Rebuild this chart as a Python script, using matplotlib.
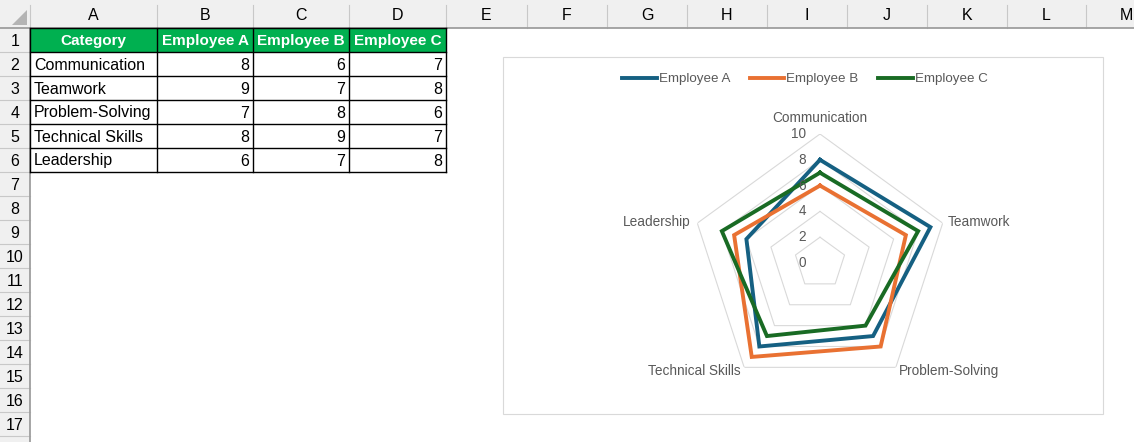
import numpy as np
import matplotlib
matplotlib.use("Agg")
import matplotlib.pyplot as plt
from matplotlib.patches import Rectangle, Polygon

# ---------------- data ----------------
categories = ["Communication", "Teamwork", "Problem-Solving", "Technical Skills", "Leadership"]
series_names = ["Employee A", "Employee B", "Employee C"]
employee_a = [8, 9, 7, 8, 6]
employee_b = [6, 7, 8, 9, 7]
employee_c = [7, 8, 6, 7, 8]
radial_ticks = [0, 2, 4, 6, 8, 10]
col_letters = ["A", "B", "C", "D", "E", "F", "G", "H", "I", "J", "K", "L", "M"]

# ---------------- layout / style ----------------
W, H = 1134, 442
DPI = 100
FONT = "Liberation Sans"
series_colors = ["#156082", "#E97132", "#196B24"]
col_edges = [30, 157, 253, 349, 446, 527, 607, 687, 767, 847, 927, 1007, 1086, 1166]
HDR_H = 28
ROW_H = 24
n_rows = 18

fig = plt.figure(figsize=(W / DPI, H / DPI), dpi=DPI)
bg = fig.add_axes([0, 0, 1, 1])
bg.set_xlim(0, W)
bg.set_ylim(H, 0)
bg.axis("off")

hdr_bg = "#F0F0F0"
sep = "#C8C8C8"
dark = "#9E9E9E"

# column header band
bg.add_patch(Rectangle((0, 0), W, HDR_H, facecolor=hdr_bg, edgecolor="none", zorder=1))
# row header band
bg.add_patch(Rectangle((0, 0), 30, H, facecolor=hdr_bg, edgecolor="none", zorder=1))
# corner triangle
bg.add_patch(Polygon([(12, 25), (27, 25), (27, 10)], closed=True, facecolor="#B4B4B4",
                     edgecolor="none", zorder=2))
# column letters & separators
for i, letter in enumerate(col_letters):
    x0, x1 = col_edges[i], col_edges[i + 1]
    bg.text((x0 + x1) / 2, 16, letter, ha="center", va="center", fontsize=11.5,
            family=FONT, color="#000000", zorder=3)
    bg.plot([x1, x1], [5, HDR_H], color=sep, lw=0.8, zorder=2)
bg.plot([30, 30], [5, HDR_H], color=sep, lw=0.8, zorder=2)
# row numbers & separators
for r in range(1, n_rows + 1):
    y0 = HDR_H + (r - 1) * ROW_H
    y1 = y0 + ROW_H
    if r <= 17:
        bg.text(15, (y0 + y1) / 2 + 1, str(r), ha="center", va="center", fontsize=11.5,
                family=FONT, color="#000000", zorder=3)
    bg.plot([0, 30], [y1, y1], color=sep, lw=0.8, zorder=2)
bg.plot([0, W], [HDR_H, HDR_H], color=dark, lw=1.3, zorder=3)
bg.plot([30, 30], [HDR_H, H], color=dark, lw=1.3, zorder=3)

# ---------------- table ----------------
header = ["Category"] + series_names
values = [employee_a, employee_b, employee_c]
green = "#00B050"
tx = col_edges[:5]
bg.add_patch(Rectangle((tx[0], HDR_H), tx[4] - tx[0], ROW_H, facecolor=green,
                       edgecolor="none", zorder=2))
for j, h in enumerate(header):
    bg.text((tx[j] + tx[j + 1]) / 2, HDR_H + ROW_H / 2 + 1, h, ha="center", va="center",
            fontsize=11, family=FONT, weight="bold", color="white", zorder=4)
for i, cat in enumerate(categories):
    yc = HDR_H + (i + 1) * ROW_H + ROW_H / 2 + 1
    bg.text(tx[0] + 4, yc, cat, ha="left", va="center", fontsize=11.5, family=FONT,
            color="#000000", zorder=4)
    for j in range(3):
        bg.text(tx[j + 2] - 4, yc, str(values[j][i]), ha="right", va="center",
                fontsize=11.5, family=FONT, color="#000000", zorder=4)
# borders
tbl_top = HDR_H
tbl_bot = HDR_H + 6 * ROW_H
for r in range(7):
    y = HDR_H + r * ROW_H
    bg.plot([tx[0], tx[4]], [y, y], color="black", lw=1.0, zorder=5)
for x in tx:
    bg.plot([x, x], [tbl_top, tbl_bot], color="black", lw=1.0, zorder=5)

# ---------------- chart area ----------------
bg.add_patch(Rectangle((503, 57), 600, 357, facecolor="white", edgecolor="#D9D9D9",
                       lw=0.8, zorder=6))

cx, cy, R = 820, 263, 129
pax = fig.add_axes([(cx - R) / W, (H - cy - R) / H, 2 * R / W, 2 * R / H], projection="polar")
pax.set_zorder(10)
pax.patch.set_alpha(0)
pax.set_theta_offset(np.pi / 2)
pax.set_theta_direction(-1)
pax.set_ylim(0, 10)
pax.set_xticks([])
pax.set_yticks([])
pax.grid(False)
pax.spines["polar"].set_visible(False)

n = len(categories)
theta = np.linspace(0, 2 * np.pi, n, endpoint=False)
theta_c = np.append(theta, theta[0])

for v in radial_ticks[1:]:
    pax.plot(theta_c, [v] * (n + 1), color="#D9D9D9", lw=0.8, zorder=1)

handles = []
for name, vals, col in zip(series_names, values, series_colors):
    ln, = pax.plot(theta_c, list(vals) + [vals[0]], color=col, lw=2.8, label=name,
                   zorder=3, solid_joinstyle="miter")
    handles.append(ln)

txtc = "#595959"
for v in radial_ticks:
    pax.annotate(str(v), xy=(0, v), xytext=(-14, 0), textcoords="offset pixels",
                 ha="right", va="center", fontsize=9.8, family=FONT, color=txtc,
                 annotation_clip=False)

offsets = [(0, 16, "center"), (5, 1, "left"), (3, -4, "left"), (-4, -4, "right"), (-7, 1, "right")]
for t, cat, (dx, dy, ha) in zip(theta, categories, offsets):
    pax.annotate(cat, xy=(t, 10), xytext=(dx, dy), textcoords="offset pixels",
                 ha=ha, va="center", fontsize=9.8, family=FONT, color=txtc,
                 annotation_clip=False)

leg = fig.legend(handles, series_names, loc="center", bbox_to_anchor=(805 / W, 1 - 79 / H),
                 ncol=3, frameon=False, handlelength=2.6, handletextpad=0.15,
                 columnspacing=1.45, borderpad=0, prop={"family": FONT, "size": 9.6})
for t in leg.get_texts():
    t.set_color(txtc)
leg.set_zorder(20)

fig.savefig("out.png", dpi=DPI)
